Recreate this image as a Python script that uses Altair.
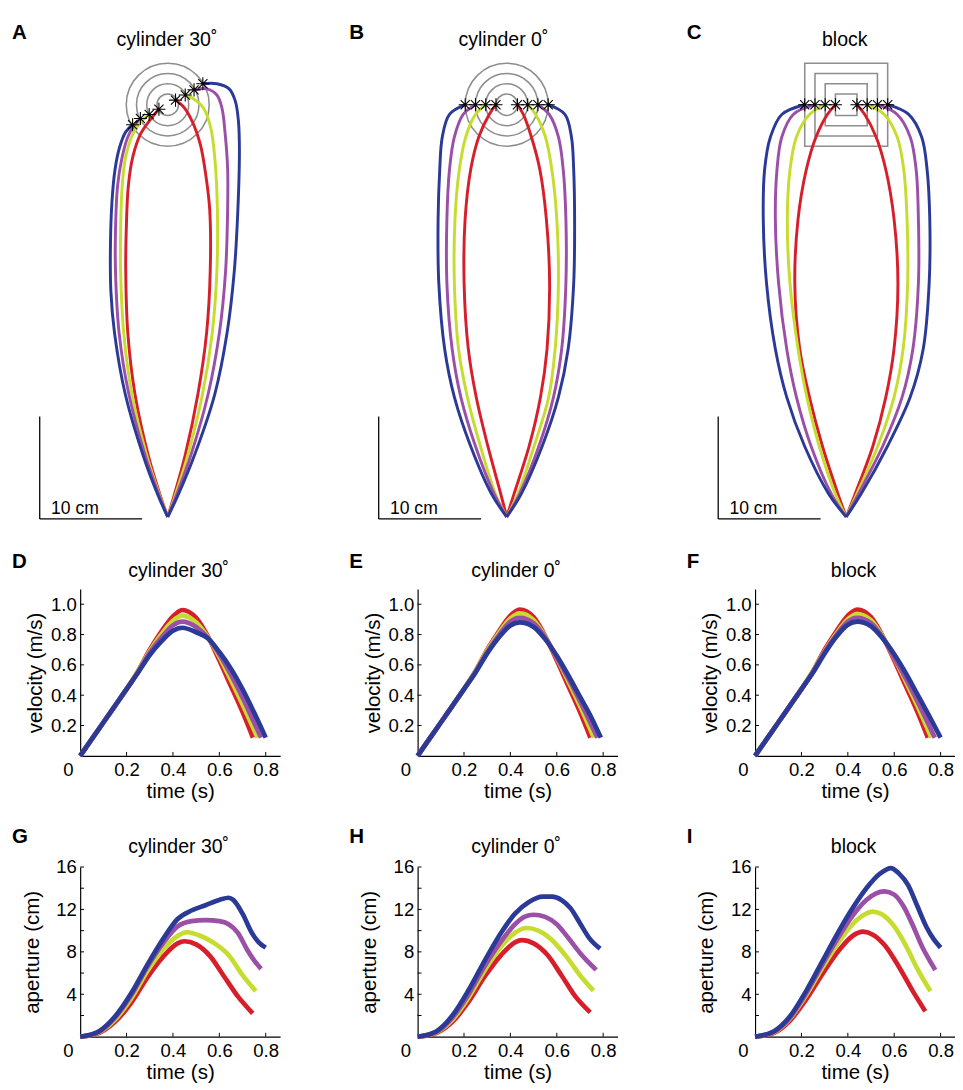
import altair as alt
import pandas as pd

FONT = "Liberation Sans"
SERIES = ["red", "green", "purple", "blue"]
SERIES_HEX = ["#d71f2c", "#c6dc2f", "#9c4fa7", "#2b3a97"]
TITLES = ["cylinder 30\u02da", "cylinder 0\u02da", "block"]
LETTERS = [["A", "B", "C"], ["D", "E", "F"], ["G", "H", "I"]]

# ---------------- top row: hand trajectories (cm) ----------------
OBJ_CENTER = (0.0, 40.25)
OBJ_HALF = [1.05, 2.05, 3.05, 4.05]          # object radius / half side (cm)
SCALE_BAR_ORIGIN = (-12.5, -0.2)
SCALE_BAR_LEN = 10

# panel A (cylinder 30 deg): (x, y) points from contact point down to start
A_RED_L = [(-0.86, 39.8), (-1.7, 38.8), (-2.65, 37.4), (-3.4, 35.2), (-3.85, 32.3), (-4.05, 28), (-4.1, 24), (-3.9, 18), (-3.2, 12), (-1.9, 6), (-0.7, 2), (0, 0)]
A_GREEN_L = [(-1.81, 39.3), (-2.5, 38.7), (-3.4, 37.4), (-4.1, 35.2), (-4.45, 32.3), (-4.6, 28), (-4.6, 24), (-4.3, 18), (-3.5, 12), (-2.05, 6), (-0.75, 2), (0, 0)]
A_PURPLE_L = [(-2.67, 38.9), (-3.3, 38.2), (-3.9, 37.1), (-4.5, 34.9), (-4.9, 32.3), (-5.1, 28), (-5.1, 24), (-4.75, 18), (-3.8, 12), (-2.2, 6), (-0.8, 2), (0, 0)]
A_BLUE_L = [(-3.43, 38.3), (-4.1, 37.6), (-4.7, 36.1), (-5.15, 33.9), (-5.45, 30.7), (-5.6, 26), (-5.55, 22), (-5.2, 18), (-4.15, 12), (-2.4, 6), (-0.9, 2), (0, 0)]
A_RED_R = [(0.76, 40.7), (1.5, 40.1), (2.4, 38.6), (3.2, 36.3), (3.7, 33.5), (4.1, 30), (4.15, 24), (3.8, 18), (2.95, 12), (1.7, 6), (0.6, 2), (0, 0)]
A_GREEN_R = [(1.71, 41.2), (2.4, 40.9), (3.5, 39.9), (4.2, 38.0), (4.6, 35), (4.85, 30), (4.8, 24), (4.35, 18), (3.4, 12), (1.95, 6), (0.7, 2), (0, 0)]
A_PURPLE_R = [(2.57, 41.7), (3.8, 41.8), (4.8, 41.2), (5.3, 39.9), (5.6, 37.5), (5.85, 34), (5.85, 30), (5.65, 24), (5.05, 18), (3.95, 12), (2.25, 6), (0.8, 2), (0, 0)]
A_BLUE_R = [(3.43, 42.3), (4.8, 42.3), (6.0, 41.8), (6.6, 40.6), (6.9, 38.7), (7.0, 36), (6.85, 30), (6.5, 24), (5.8, 18), (4.6, 12), (2.6, 6), (0.95, 2), (0, 0)]

# panels B and C share the sampled heights (cm)
BC_Y = [40.25, 39.3, 37.1, 33.9, 29.1, 22.8, 16.4, 11.7, 6.9, 2.2, 0.0]
B_RED_L = [-1.05, -1.71, -2.73, -3.52, -4.06, -4.16, -3.75, -2.98, -1.84, -0.57, 0]
B_RED_R = [1.05, 1.62, 2.41, 3.24, 3.87, 4.19, 3.94, 3.30, 2.19, 0.70, 0]
B_GREEN_L = [-2.05, -3.05, -4.00, -4.63, -5.05, -5.11, -4.70, -3.84, -2.57, -1.08, 0]
B_GREEN_R = [2.05, 2.83, 3.78, 4.41, 4.89, 5.05, 4.73, 4.10, 2.67, 1.08, 0]
B_PURPLE_L = [-3.05, -4.25, -5.11, -5.59, -5.84, -5.84, -5.33, -4.48, -3.05, -1.21, 0]
B_PURPLE_R = [3.05, 4.15, 5.05, 5.52, 5.78, 5.78, 5.37, 4.57, 3.14, 1.24, 0]
B_BLUE_L = [-4.05, -5.59, -6.29, -6.54, -6.70, -6.63, -6.06, -5.11, -3.52, -1.46, 0]
B_BLUE_R = [4.05, 5.68, 6.32, 6.54, 6.63, 6.54, 6.00, 5.05, 3.46, 1.40, 0]

C_RED_L = [-1.05, -1.84, -2.95, -3.90, -4.70, -5.02, -4.54, -3.59, -2.32, -0.79, 0]
C_RED_R = [1.05, 1.81, 2.92, 3.87, 4.67, 5.05, 4.67, 3.87, 2.60, 0.86, 0]
C_GREEN_L = [-2.05, -3.59, -4.86, -5.49, -5.75, -5.49, -4.70, -3.84, -2.63, -1.05, 0]
C_GREEN_R = [2.05, 3.71, 4.98, 5.62, 5.94, 6.00, 5.56, 4.67, 3.08, 1.02, 0]
C_PURPLE_L = [-3.05, -5.17, -6.29, -6.76, -6.92, -6.60, -5.81, -4.86, -3.43, -1.43, 0]
C_PURPLE_R = [3.05, 4.98, 6.25, 6.83, 7.05, 7.05, 6.51, 5.46, 3.56, 1.17, 0]
C_BLUE_L = [-4.05, -6.29, -7.40, -7.97, -8.10, -7.78, -6.92, -5.81, -4.06, -1.68, 0]
C_BLUE_R = [4.05, 6.10, 7.37, 7.90, 8.16, 8.10, 7.52, 6.25, 4.03, 1.43, 0]

# ---------------- middle row: velocity (m/s) vs time (s) ----------------
VT = [0, 0.05, 0.1, 0.15, 0.2, 0.25, 0.3, 0.35, 0.4, 0.44, 0.5, 0.55, 0.6, 0.65, 0.7]
D_VEL = {
    "red": (VT + [0.745], [0, 0.11, 0.22, 0.33, 0.44, 0.56, 0.70, 0.82, 0.92, 0.962, 0.91, 0.79, 0.63, 0.46, 0.29, 0.12]),
    "green": (VT + [0.765], [0, 0.11, 0.22, 0.33, 0.44, 0.56, 0.69, 0.80, 0.89, 0.925, 0.88, 0.785, 0.655, 0.50, 0.34, 0.12]),
    "purple": (VT + [0.75, 0.78], [0, 0.11, 0.22, 0.33, 0.44, 0.555, 0.68, 0.78, 0.86, 0.885, 0.85, 0.78, 0.67, 0.535, 0.385, 0.22, 0.12]),
    "blue": (VT + [0.75, 0.8], [0, 0.11, 0.22, 0.33, 0.44, 0.55, 0.665, 0.755, 0.825, 0.845, 0.815, 0.775, 0.685, 0.575, 0.44, 0.285, 0.12]),
}
E_VEL = {
    "red": (VT + [0.745], [0, 0.11, 0.22, 0.33, 0.44, 0.56, 0.70, 0.82, 0.925, 0.965, 0.915, 0.79, 0.63, 0.46, 0.29, 0.12]),
    "green": (VT + [0.76], [0, 0.11, 0.22, 0.33, 0.44, 0.56, 0.695, 0.81, 0.905, 0.94, 0.895, 0.785, 0.645, 0.49, 0.33, 0.12]),
    "purple": (VT + [0.775], [0, 0.11, 0.22, 0.33, 0.44, 0.555, 0.685, 0.795, 0.885, 0.91, 0.875, 0.78, 0.65, 0.51, 0.36, 0.12]),
    "blue": (VT + [0.75, 0.79], [0, 0.11, 0.22, 0.33, 0.44, 0.55, 0.675, 0.78, 0.86, 0.88, 0.85, 0.77, 0.66, 0.53, 0.39, 0.25, 0.12]),
}
F_VEL = {
    "red": (VT + [0.745], [0, 0.11, 0.22, 0.33, 0.44, 0.56, 0.70, 0.82, 0.925, 0.965, 0.915, 0.79, 0.63, 0.46, 0.29, 0.12]),
    "green": (VT + [0.76], [0, 0.11, 0.22, 0.33, 0.44, 0.56, 0.69, 0.805, 0.90, 0.935, 0.895, 0.785, 0.645, 0.49, 0.33, 0.12]),
    "purple": (VT + [0.775], [0, 0.11, 0.22, 0.33, 0.44, 0.555, 0.685, 0.795, 0.885, 0.91, 0.875, 0.78, 0.65, 0.51, 0.36, 0.12]),
    "blue": (VT + [0.75, 0.80], [0, 0.11, 0.22, 0.33, 0.44, 0.55, 0.675, 0.785, 0.865, 0.885, 0.855, 0.775, 0.67, 0.545, 0.405, 0.265, 0.12]),
}

# ---------------- bottom row: aperture (cm) vs time (s) ----------------
G_APT = {
    "red": ([0, 0.08, 0.15, 0.22, 0.29, 0.36, 0.42, 0.45, 0.5, 0.56, 0.62, 0.68, 0.744],
            [0, 0.35, 1.4, 3.2, 5.6, 7.6, 8.8, 9.0, 8.7, 7.6, 5.7, 3.8, 2.2]),
    "green": ([0, 0.08, 0.15, 0.22, 0.29, 0.36, 0.42, 0.46, 0.52, 0.58, 0.64, 0.70, 0.757],
              [0, 0.4, 1.6, 3.6, 6.2, 8.3, 9.5, 9.85, 9.5, 8.8, 7.7, 5.8, 4.3]),
    "purple": ([0, 0.08, 0.15, 0.22, 0.29, 0.36, 0.42, 0.48, 0.54, 0.6, 0.64, 0.68, 0.72, 0.75, 0.78],
               [0, 0.45, 1.8, 3.9, 6.6, 8.9, 10.4, 10.9, 11.0, 10.9, 10.6, 9.8, 8.2, 7.2, 6.4]),
    "blue": ([0, 0.08, 0.15, 0.22, 0.29, 0.36, 0.42, 0.48, 0.54, 0.60, 0.64, 0.66, 0.70, 0.74, 0.77, 0.80],
             [0, 0.5, 1.9, 4.1, 6.8, 9.3, 11.1, 11.9, 12.4, 12.9, 13.1, 12.9, 11.6, 9.8, 8.9, 8.4]),
}
H_APT = {
    "red": ([0, 0.08, 0.15, 0.22, 0.29, 0.36, 0.42, 0.45, 0.5, 0.56, 0.62, 0.68, 0.744],
            [0, 0.35, 1.4, 3.3, 5.7, 7.7, 8.9, 9.1, 8.8, 7.7, 5.8, 3.8, 2.3]),
    "green": ([0, 0.08, 0.15, 0.22, 0.29, 0.36, 0.42, 0.47, 0.52, 0.58, 0.64, 0.70, 0.758],
              [0, 0.4, 1.6, 3.7, 6.3, 8.5, 9.8, 10.25, 10.0, 9.1, 7.6, 5.8, 4.35]),
    "purple": ([0, 0.08, 0.15, 0.22, 0.29, 0.36, 0.42, 0.46, 0.5, 0.55, 0.6, 0.65, 0.7, 0.77],
               [0, 0.45, 1.8, 4.0, 6.7, 9.0, 10.6, 11.3, 11.5, 11.3, 10.6, 9.3, 7.9, 6.3]),
    "blue": ([0, 0.08, 0.15, 0.22, 0.29, 0.36, 0.42, 0.48, 0.54, 0.58, 0.62, 0.66, 0.70, 0.74, 0.787],
             [0, 0.5, 2.0, 4.4, 7.2, 9.8, 11.6, 12.7, 13.2, 13.2, 12.9, 12.1, 10.7, 9.3, 8.3]),
}
I_APT = {
    "red": ([0, 0.08, 0.15, 0.22, 0.29, 0.36, 0.42, 0.466, 0.51, 0.56, 0.62, 0.68, 0.734],
            [0, 0.35, 1.5, 3.5, 5.9, 8.1, 9.5, 9.9, 9.6, 8.6, 6.6, 4.3, 2.4]),
    "green": ([0, 0.08, 0.15, 0.22, 0.29, 0.36, 0.42, 0.47, 0.508, 0.55, 0.6, 0.65, 0.7, 0.756],
              [0, 0.4, 1.7, 3.9, 6.5, 8.9, 10.6, 11.5, 11.8, 11.5, 10.4, 8.6, 6.4, 4.3]),
    "purple": ([0, 0.08, 0.15, 0.22, 0.29, 0.36, 0.42, 0.48, 0.52, 0.558, 0.6, 0.64, 0.68, 0.72, 0.777],
               [0, 0.45, 1.8, 4.1, 6.8, 9.4, 11.4, 12.9, 13.5, 13.7, 13.4, 12.3, 10.5, 8.5, 6.3]),
    "blue": ([0, 0.08, 0.15, 0.22, 0.29, 0.36, 0.42, 0.48, 0.54, 0.586, 0.62, 0.66, 0.70, 0.74, 0.77, 0.80],
             [0, 0.5, 1.9, 4.3, 7.1, 9.9, 12.1, 14.0, 15.4, 15.9, 15.4, 14.3, 12.3, 10.3, 9.2, 8.4]),
}

TIME_TICKS = [0.2, 0.4, 0.6, 0.8]
VEL_LABELS = [0.2, 0.4, 0.6, 0.8, 1.0]
APT_LABELS = [4, 8, 12, 16]
APT_TICKS = [2, 4, 6, 8, 10, 12, 14, 16]

# ---------------- geometry ----------------
K = 10.5                    # px per cm in top row
PANEL_W = 205
TOP_X0_CM = [-8.55, -8.7, -8.9]       # left edge of each trajectory panel (cm)
TOP_TITLE_X = [89, 88, 92]
Y0_CM, Y1_CM = -1.333, 44.95
TOP_H = round((Y1_CM - Y0_CM) * K)
TMAX = PANEL_W / 237.8
VEL_H, APT_H = 171, 174
COL_SPACING = 71
LETTER_X = -70

AST_PATH = "M-1,0L1,0M0,-1L0,1M-0.7,-0.7L0.7,0.7M-0.7,0.7L0.7,-0.7"
color_scale = alt.Scale(domain=SERIES, range=SERIES_HEX)


def text_layer(txt, x, y, size, weight="normal", align="left"):
    return alt.Chart(pd.DataFrame({"t": [txt]})).mark_text(
        align=align, baseline="middle", fontSize=size, fontWeight=weight,
        font=FONT, color="black").encode(text="t:N", x=alt.value(x), y=alt.value(y))


def traj_panel(curves, shape, letter, title, x0, title_x):
    rows = []
    for (c, side), pts in curves.items():
        for i, (x, y) in enumerate(pts):
            rows.append({"c": c, "k": f"{c}-{side}", "i": i, "x": x, "y": y})
    df = pd.DataFrame(rows)
    ast = df[df["i"] == 0]
    xs = alt.Scale(domain=[x0, x0 + PANEL_W / K], nice=False, zero=False)
    ys = alt.Scale(domain=[Y0_CM, Y0_CM + TOP_H / K], nice=False, zero=False)
    X = alt.X("x:Q", scale=xs, axis=None)
    Y = alt.Y("y:Q", scale=ys, axis=None)

    obj_df = pd.DataFrame({"x": [OBJ_CENTER[0]] * len(OBJ_HALF),
                           "y": [OBJ_CENTER[1]] * len(OBJ_HALF), "r": OBJ_HALF})
    objects = alt.Chart(obj_df).mark_point(
        shape=shape, filled=False, stroke="#8e8e8e", strokeWidth=1.6, opacity=1
    ).encode(
        x=X, y=Y,
        size=alt.Size("r:Q", scale=alt.Scale(type="pow", exponent=2, domain=[0, 10],
                                              range=[0, (20 * K) ** 2]), legend=None),
    )
    lines = alt.Chart(df).mark_line(interpolate="catmull-rom", strokeWidth=3).encode(
        x=X, y=Y,
        color=alt.Color("c:N", scale=color_scale, legend=None),
        detail="k:N",
        order="i:Q",
    )
    stars = alt.Chart(ast).mark_point(
        shape=AST_PATH, size=180, filled=False, stroke="black", strokeWidth=1.1, opacity=1
    ).encode(x=X, y=Y)

    bar_df = pd.DataFrame({"x": [SCALE_BAR_ORIGIN[0]], "y": [SCALE_BAR_ORIGIN[1]],
                           "x2": [SCALE_BAR_ORIGIN[0] + SCALE_BAR_LEN],
                           "y2": [SCALE_BAR_ORIGIN[1] + SCALE_BAR_LEN],
                           "label": [f"{SCALE_BAR_LEN} cm"],
                           "lx": [SCALE_BAR_ORIGIN[0] + 1.1], "ly": [SCALE_BAR_ORIGIN[1] + 0.45]})
    bar_v = alt.Chart(bar_df).mark_rule(color="black", strokeWidth=1.3).encode(
        x=X, y=Y, y2="y2:Q")
    bar_h = alt.Chart(bar_df).mark_rule(color="black", strokeWidth=1.3).encode(
        x=X, x2="x2:Q", y=Y)
    bar_t = alt.Chart(bar_df).mark_text(align="left", baseline="alphabetic", fontSize=18,
                                        font=FONT, color="black").encode(
        x=alt.X("lx:Q", scale=xs, axis=None), y=alt.Y("ly:Q", scale=ys, axis=None), text="label:N")

    return alt.layer(
        objects, lines, stars, bar_v, bar_h, bar_t,
        text_layer(letter, LETTER_X, -24.5, 21, "bold"),
        text_layer(title, title_x, -17, 20, align="center"),
    ).properties(width=PANEL_W, height=TOP_H)


def time_panel(data, kind, letter, title, letter_y, title_y):
    rows = []
    for c in SERIES:
        ts, vs = data[c]
        for i, (t, v) in enumerate(zip(ts, vs)):
            rows.append({"c": c, "i": i, "t": t, "v": v})
    df = pd.DataFrame(rows)
    if kind == "vel":
        H, ymax, labels, ticks, fmt, ytitle, tpad = VEL_H, 1.1, VEL_LABELS, VEL_LABELS, ".1f", "velocity (m/s)", 5
    else:
        H, ymax, labels, ticks, fmt, ytitle, tpad = APT_H, 16, APT_LABELS, APT_TICKS, "d", "aperture (cm)", 14
    xs = alt.Scale(domain=[0, TMAX], nice=False, zero=False)
    ys = alt.Scale(domain=[0, ymax], nice=False, zero=False)
    xaxis = alt.Axis(values=TIME_TICKS, format=".1f", title="time (s)", labelPadding=5, titlePadding=2)
    yaxis = alt.Axis(values=labels, format=fmt, title=ytitle, labelPadding=4, titlePadding=tpad)
    X = alt.X("t:Q", scale=xs, axis=xaxis)
    Y = alt.Y("v:Q", scale=ys, axis=yaxis)
    lines = alt.Chart(df).mark_line(interpolate="monotone", strokeWidth=4.8).encode(
        x=X, y=Y,
        color=alt.Color("c:N", scale=color_scale, legend=None),
        order="i:Q",
    )
    yt = alt.Chart(pd.DataFrame({"v": ticks})).mark_rule(color="black", strokeWidth=1).encode(
        y=Y, x=alt.value(0), x2=alt.value(4))
    xt = alt.Chart(pd.DataFrame({"t": TIME_TICKS})).mark_rule(color="black", strokeWidth=1).encode(
        x=X, y=alt.value(H), y2=alt.value(H - 4))
    return alt.layer(
        lines, yt, xt,
        text_layer("0", -12, H + 14.5, 19, align="center"),
        text_layer(letter, LETTER_X, letter_y, 21, "bold"),
        text_layer(title, 101, title_y, 20, align="center"),
    ).properties(width=PANEL_W, height=H)


A_CURVES = {("red", "L"): A_RED_L, ("red", "R"): A_RED_R,
            ("green", "L"): A_GREEN_L, ("green", "R"): A_GREEN_R,
            ("purple", "L"): A_PURPLE_L, ("purple", "R"): A_PURPLE_R,
            ("blue", "L"): A_BLUE_L, ("blue", "R"): A_BLUE_R}
B_CURVES = {(c, s): list(zip(xs_, BC_Y)) for (c, s), xs_ in {
    ("red", "L"): B_RED_L, ("red", "R"): B_RED_R, ("green", "L"): B_GREEN_L, ("green", "R"): B_GREEN_R,
    ("purple", "L"): B_PURPLE_L, ("purple", "R"): B_PURPLE_R, ("blue", "L"): B_BLUE_L, ("blue", "R"): B_BLUE_R}.items()}
C_CURVES = {(c, s): list(zip(xs_, BC_Y)) for (c, s), xs_ in {
    ("red", "L"): C_RED_L, ("red", "R"): C_RED_R, ("green", "L"): C_GREEN_L, ("green", "R"): C_GREEN_R,
    ("purple", "L"): C_PURPLE_L, ("purple", "R"): C_PURPLE_R, ("blue", "L"): C_BLUE_L, ("blue", "R"): C_BLUE_R}.items()}

row1 = alt.hconcat(
    *[traj_panel(cv, shp, LETTERS[0][j], TITLES[j], TOP_X0_CM[j], TOP_TITLE_X[j])
      for j, (cv, shp) in enumerate([(A_CURVES, "circle"), (B_CURVES, "circle"), (C_CURVES, "square")])],
    spacing=COL_SPACING,
)
row2 = alt.hconcat(
    *[time_panel(d, "vel", LETTERS[1][j], TITLES[j], -27.5, -18) for j, d in enumerate([D_VEL, E_VEL, F_VEL])],
    spacing=COL_SPACING,
)
row3 = alt.hconcat(
    *[time_panel(d, "apt", LETTERS[2][j], TITLES[j], -31, -20) for j, d in enumerate([G_APT, H_APT, I_APT])],
    spacing=COL_SPACING,
)

chart = alt.vconcat(
    row1, alt.vconcat(row2, row3, spacing=25), spacing=21
).properties(
    padding={"left": 4, "top": 0, "right": 0, "bottom": 0}, background="white"
).configure(font=FONT).configure_view(strokeWidth=0).configure_axis(
    domainColor="black", domainWidth=1.2, ticks=False, grid=False,
    labelFont=FONT, labelFontSize=19, labelColor="black",
    titleFont=FONT, titleFontSize=21, titleFontWeight="normal", titleColor="black",
)

chart.save("out.html", embed_options={"renderer": "svg", "actions": False})
